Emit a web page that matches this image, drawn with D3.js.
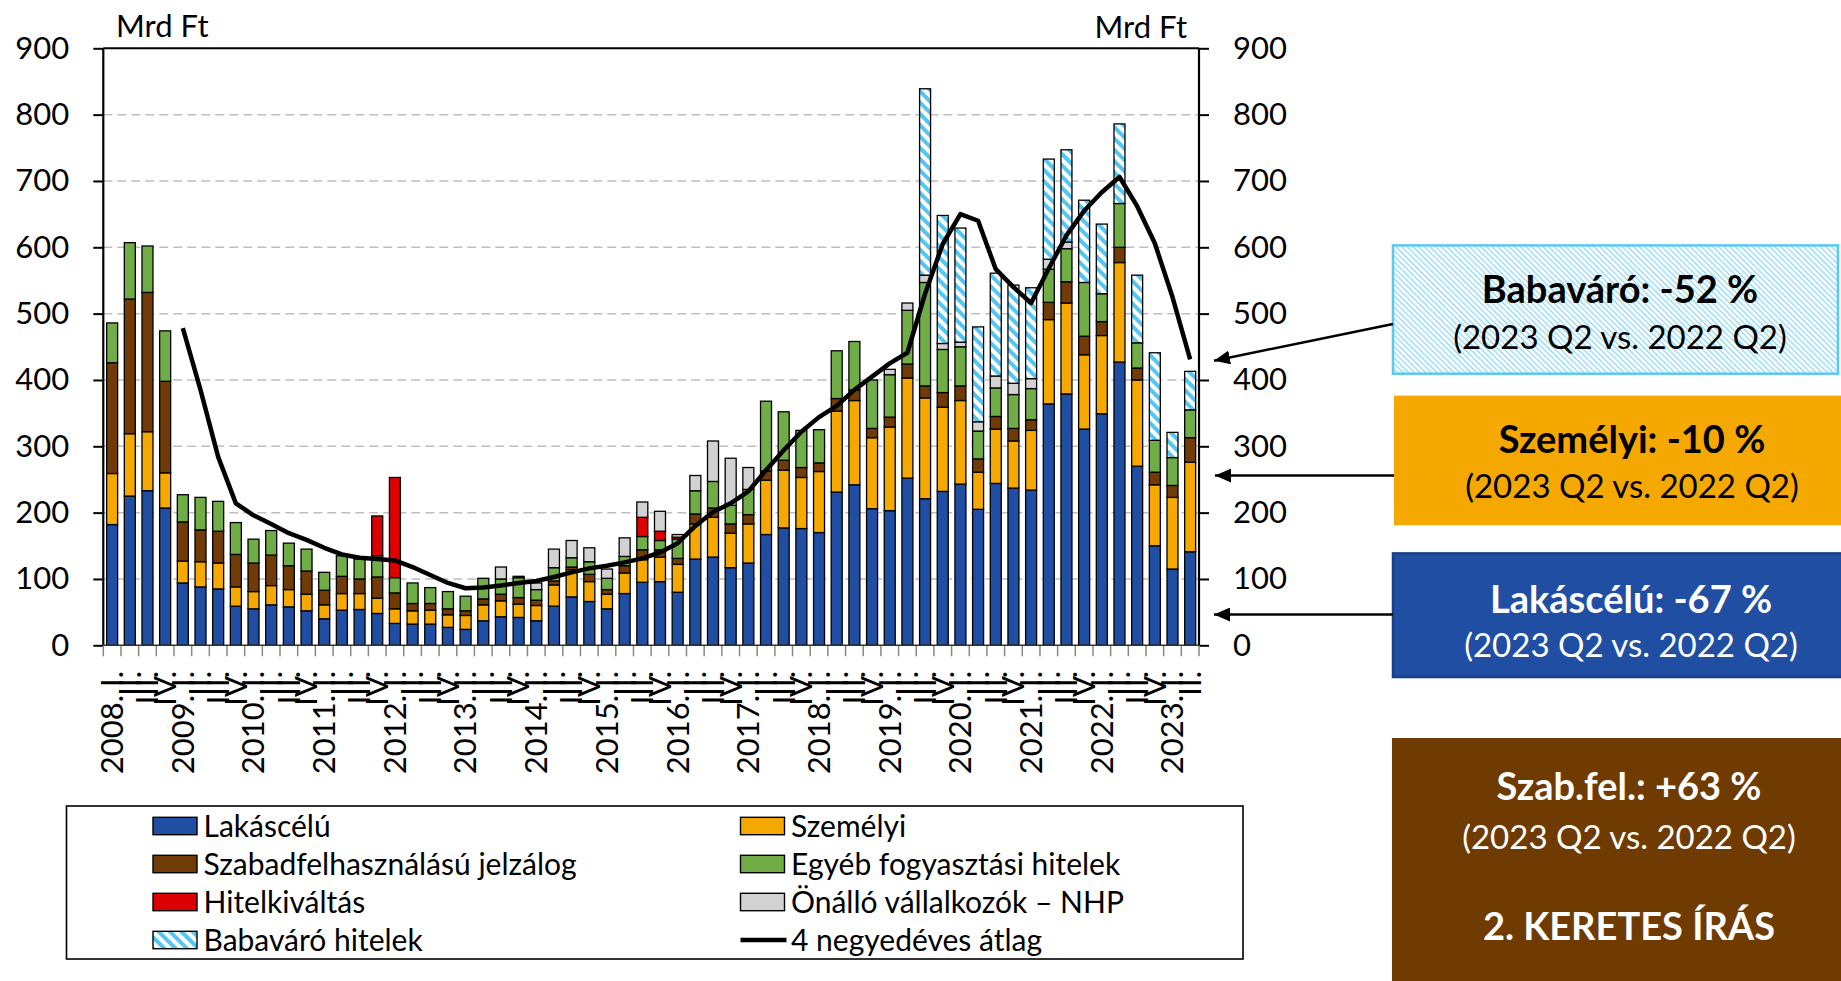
<!DOCTYPE html>
<html><head><meta charset="utf-8">
<script src="https://cdn.jsdelivr.net/npm/d3@7"></script>
<style>
body{margin:0;background:#fff;}
text{font-family:Lato,"Open Sans",sans-serif;fill:#000;}
</style></head>
<body><svg id="c" width="1841" height="981"></svg>
<script>
// ---------- DATA ----------
const periods = ["2008Q1","2008Q2","2008Q3","2008Q4","2009Q1","2009Q2","2009Q3","2009Q4","2010Q1","2010Q2","2010Q3","2010Q4",
"2011Q1","2011Q2","2011Q3","2011Q4","2012Q1","2012Q2","2012Q3","2012Q4","2013Q1","2013Q2","2013Q3","2013Q4",
"2014Q1","2014Q2","2014Q3","2014Q4","2015Q1","2015Q2","2015Q3","2015Q4","2016Q1","2016Q2","2016Q3","2016Q4",
"2017Q1","2017Q2","2017Q3","2017Q4","2018Q1","2018Q2","2018Q3","2018Q4","2019Q1","2019Q2","2019Q3","2019Q4",
"2020Q1","2020Q2","2020Q3","2020Q4","2021Q1","2021Q2","2021Q3","2021Q4","2022Q1","2022Q2","2022Q3","2022Q4",
"2023Q1","2023Q2"];
const tickLabels = ["2008. I.","II.","III.","IV.","2009. I.","II.","III.","IV.","2010. I.","II.","III.","IV.",
"2011. I.","II.","III.","IV.","2012. I.","II.","III.","IV.","2013. I.","II.","III.","IV.",
"2014. I.","II.","III.","IV.","2015. I.","II.","III.","IV.","2016. I.","II.","III.","IV.",
"2017. I.","II.","III.","IV.","2018. I.","II.","III.","IV.","2019. I.","II.","III.","IV.",
"2020. I.","II.","III.","IV.","2021. I.","II.","III.","IV.","2022. I.","II.","III.","IV.",
"2023. I.","II."];
const yTicks = [0,100,200,300,400,500,600,700,800,900];

const lakascelu = [182,225,233,207,94,88,85,59,55,61,58,52,40,53,54,48,33,32,32,27,24,37,43,42,37,59,73,66,55,78,95,96,80,130,133,117,124,167,177,176,170,231,242,206,203,252,221,232,243,205,244,237,234,364,379,326,349,427,270,150,115,141];
const szemelyi = [77,94,89,53,33,38,39,29,26,29,26,25,21,25,24,23,22,20,21,19,21,24,24,20,23,32,41,30,22,31,34,37,42,53,60,52,59,82,87,77,92,122,127,107,126,151,152,127,126,56,82,71,90,127,137,112,118,150,130,92,108,135];
const szabad = [167,203,210,138,59,48,48,49,43,46,36,35,22,26,22,32,24,11,10,9,7,9,10,10,8,6,4,11,7,11,15,11,9,15,14,14,14,14,15,15,13,19,16,14,15,21,18,22,22,20,19,19,16,26,32,28,21,23,18,19,18,37];
const egyeb = [60,85,70,76,41,49,45,48,36,37,34,33,27,31,30,32,23,31,24,26,22,31,23,30,16,20,14,19,17,14,20,14,29,35,40,28,38,105,73,56,50,72,73,73,64,81,156,65,59,42,43,51,47,50,50,81,42,66,38,48,42,42];
const hitelkivaltas = [0,0,0,0,0,0,0,0,0,0,0,0,0,0,0,60,151,0,0,0,0,0,0,0,0,0,0,0,0,0,29,14,3,0,0,0,0,0,0,0,0,0,0,0,0,0,0,0,0,0,0,0,0,0,0,0,0,0,0,0,0,0];
const onallo = [0,0,0,0,0,0,0,0,0,0,0,0,0,0,0,0,0,0,0,0,0,0,18,2,10,28,26,21,14,28,23,30,4,23,61,71,33,0,0,0,0,0,0,0,8,11,11,9,7,14,18,17,15,15,10,0,0,0,0,0,0,0];
const babavaro = [0,0,0,0,0,0,0,0,0,0,0,0,0,0,0,0,0,0,0,0,0,0,0,0,0,0,0,0,0,0,0,0,0,0,0,0,0,0,0,0,0,0,0,0,0,0,281,193,172,143,155,148,137,151,139,124,105,120,102,132,38,58];
const atlag4 = [null,null,null,null,478,385,284,214,196,183,169,159,147,137,132,130,128,118,106,94,86,87,90,94,97,103,110,116,120,125,131,140,154,180,201,214,232,264,294,322,344,361,385,405,425,441,530,605,650,640,567,540,516,568,618,655,683,706,662,606,525,431];

const seriesNames = ["Lakáscélú","Személyi","Szabadfelhasználású jelzálog","Egyéb fogyasztási hitelek","Hitelkiváltás","Önálló vállalkozók – NHP","Babaváró hitelek"];
const seriesKeys = ["lak","szem","szab","egy","hk","nhp","baba"];
const seriesFills = ["#1f4ea3","#f5a800","#703b06","#70ad47","#dd0000","#d2d2d2","url(#baba)"];

// ---------- LAYOUT ----------
const svg = d3.select("#c");
const X0 = 103.3, X1 = 1199, Y0 = 645.3, Y900 = 48.3;
const x = d3.scaleBand().domain(periods).range([X0, X1]).paddingInner(0.378).paddingOuter(0.189);
const y = d3.scaleLinear().domain([0, 900]).range([Y0, Y900]);

const defs = svg.append("defs");
const pat = defs.append("pattern").attr("id","baba").attr("patternUnits","userSpaceOnUse")
  .attr("width",8).attr("height",8).attr("patternTransform","rotate(-45)");
pat.append("rect").attr("width",8).attr("height",8).attr("fill","#fff");
pat.append("rect").attr("width",4).attr("height",8).attr("fill","#55c6f0");
const pat2 = defs.append("pattern").attr("id","babaBox").attr("patternUnits","userSpaceOnUse")
  .attr("width",4).attr("height",4).attr("patternTransform","rotate(-45)");
pat2.append("rect").attr("width",4).attr("height",4).attr("fill","#fff");
pat2.append("rect").attr("width",1.3).attr("height",4).attr("fill","#8fd8f5");
defs.append("marker").attr("id","arr").attr("markerUnits","userSpaceOnUse")
  .attr("markerWidth",18).attr("markerHeight",14).attr("refX",16).attr("refY",7).attr("orient","auto")
  .append("path").attr("d","M0,0 L16,7 L0,14 Z").attr("fill","#000");

// gridlines
svg.append("g").selectAll("line").data(yTicks.filter(v => v > 0 && v < 900)).join("line")
  .attr("x1", X0).attr("x2", X1).attr("y1", d => y(d)).attr("y2", d => y(d))
  .attr("stroke", "#bfbfbf").attr("stroke-width", 1.5).attr("stroke-dasharray", "9,5");
svg.append("line").attr("x1", X0).attr("x2", X1).attr("y1", y(900)).attr("y2", y(900))
  .attr("stroke", "#000").attr("stroke-width", 2);

// stacked bars
const table = periods.map((p, i) => ({period: p, lak: lakascelu[i], szem: szemelyi[i], szab: szabad[i],
  egy: egyeb[i], hk: hitelkivaltas[i], nhp: onallo[i], baba: babavaro[i]}));
const stacked = d3.stack().keys(seriesKeys)(table);
const gBars = svg.append("g");
stacked.forEach((layer, li) => {
  gBars.append("g").selectAll("rect").data(layer.filter(d => d[1] - d[0] > 0)).join("rect")
    .attr("x", d => x(d.data.period)).attr("width", x.bandwidth())
    .attr("y", d => y(d[1])).attr("height", d => y(d[0]) - y(d[1]))
    .attr("fill", seriesFills[li]).attr("stroke", "#000").attr("stroke-width", 1.3);
});

// 4-quarter average line
const line = d3.line().defined(d => d.v != null).x(d => x(d.p) + x.bandwidth() / 2).y(d => y(d.v));
svg.append("path").datum(periods.map((p, i) => ({p, v: atlag4[i]})))
  .attr("d", line).attr("fill", "none").attr("stroke", "#000").attr("stroke-width", 4.5)
  .attr("stroke-linejoin", "round");

// axes
const axL = svg.append("g").attr("transform", `translate(${X0},0)`)
  .call(d3.axisLeft(y).tickValues(yTicks).tickSize(10).tickPadding(24));
const axR = svg.append("g").attr("transform", `translate(${X1},0)`)
  .call(d3.axisRight(y).tickValues(yTicks).tickSize(10).tickPadding(24));
[axL, axR].forEach(a => {
  a.select(".domain").remove();
  a.selectAll(".tick line").attr("stroke", "#000").attr("stroke-width", 2);
  a.selectAll(".tick text").style("font-size", "31px").style("font-family", "Lato");
});
svg.append("line").attr("x1", X0).attr("x2", X0).attr("y1", Y900).attr("y2", Y0).attr("stroke", "#000").attr("stroke-width", 2.2);
svg.append("line").attr("x1", X1).attr("x2", X1).attr("y1", Y900).attr("y2", Y0).attr("stroke", "#000").attr("stroke-width", 2.2);

// x axis
const step = x.step();
const bounds = d3.range(periods.length + 1).map(i => X0 + i * step);
svg.append("g").selectAll("line").data(bounds).join("line")
  .attr("x1", d => d).attr("x2", d => d).attr("y1", Y0).attr("y2", Y0 + 11)
  .attr("stroke", "#888").attr("stroke-width", 1.5);
svg.append("line").attr("x1", X0).attr("x2", X1).attr("y1", Y0).attr("y2", Y0).attr("stroke", "#333").attr("stroke-width", 1.6);
svg.append("g").selectAll("text").data(periods).join("text")
  .attr("transform", d => `translate(${x(d) + x.bandwidth() / 2},671) rotate(-90)`)
  .attr("text-anchor", "end").attr("dy", "0.35em").style("font-size", "31px")
  .text((d, i) => tickLabels[i]);

// units
svg.append("text").attr("x", 116).attr("y", 37).style("font-size", "31px").text("Mrd Ft");
svg.append("text").attr("x", 1187).attr("y", 38).attr("text-anchor", "end").style("font-size", "31px").text("Mrd Ft");

// legend
svg.append("rect").attr("x", 66.5).attr("y", 806).attr("width", 1176.5).attr("height", 153)
  .attr("fill", "#fff").attr("stroke", "#000").attr("stroke-width", 1.6);
const legendOrder = [
  {i: 0, col: 0, row: 0}, {i: 1, col: 1, row: 0},
  {i: 2, col: 0, row: 1}, {i: 3, col: 1, row: 1},
  {i: 4, col: 0, row: 2}, {i: 5, col: 1, row: 2},
  {i: 6, col: 0, row: 3}, {i: -1, col: 1, row: 3}];
const colX = [153, 740.5], rowY = [826, 864, 902, 940];
const lg = svg.append("g").selectAll("g").data(legendOrder).join("g")
  .attr("transform", d => `translate(${colX[d.col]},${rowY[d.row]})`);
lg.filter(d => d.i >= 0).append("rect").attr("x", 0).attr("y", -8.7).attr("width", 44).attr("height", 17.4)
  .attr("fill", d => seriesFills[d.i]).attr("stroke", "#000").attr("stroke-width", 1.4);
lg.filter(d => d.i < 0).append("line").attr("x1", 0).attr("x2", 46).attr("y1", 0).attr("y2", 0)
  .attr("stroke", "#000").attr("stroke-width", 4.5);
lg.append("text").attr("x", 50.5).attr("dy", "0.36em").style("font-size", "30px")
  .text(d => d.i >= 0 ? seriesNames[d.i] : "4 negyedéves átlag");

// right-side boxes
const boxes = [
  {x: 1393, y: 245.4, w: 445, h: 128.3, fill: "url(#babaBox)", stroke: "#5bc8f0", color: "#000", cx: 1620,
   lines: [{t: "Babaváró: -52 %", y: 290, b: true}, {t: "(2023 Q2 vs. 2022 Q2)", y: 337, b: false}]},
  {x: 1394, y: 395.6, w: 450, h: 129.6, fill: "#f5a800", stroke: "none", color: "#000", cx: 1632,
   lines: [{t: "Személyi: -10 %", y: 440, b: true}, {t: "(2023 Q2 vs. 2022 Q2)", y: 486, b: false}]},
  {x: 1393, y: 553.4, w: 450, h: 123.6, fill: "#1f4ea3", stroke: "#193f86", color: "#fff", cx: 1631,
   lines: [{t: "Lakáscélú: -67 %", y: 600, b: true}, {t: "(2023 Q2 vs. 2022 Q2)", y: 645, b: false}]},
  {x: 1392, y: 738, w: 452, h: 250, fill: "#703b00", stroke: "none", color: "#fff", cx: 1629,
   lines: [{t: "Szab.fel.: +63 %", y: 787, b: true}, {t: "(2023 Q2 vs. 2022 Q2)", y: 837, b: false}, {t: "2. KERETES ÍRÁS", y: 927, b: true}]}
];
boxes.forEach(b => {
  svg.append("rect").attr("x", b.x).attr("y", b.y).attr("width", b.w).attr("height", b.h)
    .attr("fill", b.fill).attr("stroke", b.stroke).attr("stroke-width", 2.5);
  b.lines.forEach(l => {
    svg.append("text").attr("x", b.cx).attr("y", l.y).attr("dy", "0.35em").attr("text-anchor", "middle")
      .style("font-size", l.b ? "38px" : "33px").style("font-weight", l.b ? "bold" : "normal")
      .style("fill", b.color).text(l.t);
  });
});

// arrows
const arrows = [[1393, 324, 1214, 360.7], [1394, 475.6, 1215, 475.6], [1393, 614.5, 1214, 614.5]];
svg.append("g").selectAll("line").data(arrows).join("line")
  .attr("x1", d => d[0]).attr("y1", d => d[1]).attr("x2", d => d[2]).attr("y2", d => d[3])
  .attr("stroke", "#000").attr("stroke-width", 2.5).attr("marker-end", "url(#arr)");
</script>
</body></html>
